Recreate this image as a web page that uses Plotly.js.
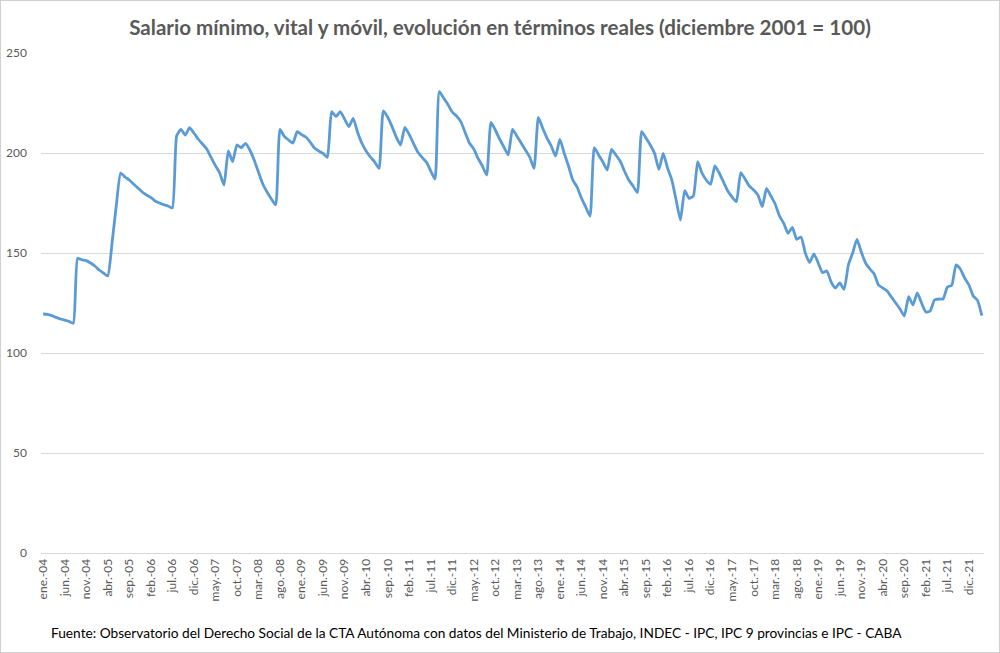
<!DOCTYPE html>
<html>
<head>
<meta charset="utf-8">
<script src="https://cdn.plot.ly/plotly-3.0.1.min.js"></script>
<style>
  html, body { margin: 0; padding: 0; background: #fff; }
  #wrap { position: relative; width: 1000px; height: 653px; }
  #chart { width: 1000px; height: 653px; }
  #frame { position: absolute; left: 0; top: 0; width: 1000px; height: 653px; box-sizing: border-box; border: 1px solid #d0d0d0; pointer-events: none; }
</style>
</head>
<body>
<div id="wrap"><div id="chart"></div><div id="frame"></div></div>
<script>
// Month abbreviations used for the category labels
const meses = ["ene.", "feb.", "mar.", "abr.", "may.", "jun.", "jul.", "ago.", "sep.", "oct.", "nov.", "dic."];
const anioInicio = 2004;

// Salario mínimo, vital y móvil en términos reales (dic 2001 = 100), by year
const v2004 = [119.5, 119.3, 118.7, 117.8, 117.0, 116.4, 115.8, 114.8, 147.3, 146.6, 146.2, 145.0];
const v2005 = [143.5, 141.5, 140.0, 138.5, 155.0, 174.0, 190.0, 188.0, 186.5, 184.5, 182.5, 180.5];
const v2006 = [179.0, 177.8, 176.0, 175.0, 174.2, 173.5, 172.5, 208.5, 211.8, 209.0, 212.7, 210.0];
const v2007 = [207.0, 204.5, 202.0, 197.8, 193.7, 190.0, 184.0, 201.0, 195.7, 204.0, 202.7, 204.8];
const v2008 = [201.5, 196.5, 190.5, 184.5, 180.5, 177.0, 174.0, 211.8, 208.3, 206.5, 205.0, 210.7];
const v2009 = [209.2, 208.0, 205.5, 202.5, 201.0, 199.8, 197.8, 220.7, 218.2, 220.7, 217.0, 213.2];
const v2010 = [217.3, 210.5, 205.0, 201.0, 198.0, 195.5, 192.3, 221.0, 218.0, 213.3, 208.0, 204.0];
const v2011 = [212.8, 209.3, 204.8, 200.5, 197.8, 195.5, 191.1, 187.0, 230.7, 227.5, 224.3, 220.5];
const v2012 = [218.5, 215.7, 210.3, 205.0, 202.0, 197.3, 193.5, 189.0, 215.3, 211.5, 207.0, 203.0];
const v2013 = [199.0, 211.8, 208.5, 205.0, 201.5, 198.0, 192.3, 217.8, 212.5, 207.5, 203.5, 198.5];
const v2014 = [206.8, 200.0, 193.5, 186.5, 183.0, 177.5, 173.0, 168.5, 202.7, 199.0, 195.5, 191.5];
const v2015 = [201.8, 199.0, 196.0, 191.0, 186.5, 183.5, 180.2, 210.7, 207.5, 204.0, 199.8, 191.8];
const v2016 = [199.8, 192.5, 186.5, 176.5, 166.5, 181.2, 177.3, 178.5, 195.7, 190.0, 186.5, 184.3];
const v2017 = [193.5, 190.0, 185.5, 181.0, 178.0, 175.7, 190.2, 187.0, 183.5, 181.5, 179.0, 173.2];
const v2018 = [182.3, 178.5, 174.5, 168.5, 164.8, 159.8, 162.8, 156.8, 158.0, 150.0, 145.2, 149.5];
const v2019 = [145.0, 140.2, 141.0, 135.5, 132.5, 135.0, 131.8, 144.0, 150.0, 156.8, 150.5, 145.0];
const v2020 = [142.0, 139.5, 134.0, 132.5, 131.0, 128.0, 125.0, 122.0, 118.5, 128.2, 124.0, 130.0];
const v2021 = [125.0, 120.5, 121.0, 126.5, 127.0, 127.0, 133.0, 133.8, 144.0, 142.0, 137.5, 134.0];
const v2022 = [128.5, 126.3, 118.7];

const salario = [].concat(v2004, v2005, v2006, v2007, v2008, v2009, v2010, v2011,
  v2012, v2013, v2014, v2015, v2016, v2017, v2018, v2019, v2020, v2021, v2022);

// Category labels "ene.-04", "feb.-04", ...
const categorias = salario.map((_, i) => {
  const anio = anioInicio + Math.floor(i / 12);
  return meses[i % 12] + "-" + String(anio).slice(2);
});
// Tick labels shown every 5 months
const etiquetas = categorias.filter((_, i) => i % 5 === 0);

const fuenteTxt = "Fuente: Observatorio del Derecho Social de la CTA Autónoma con datos del Ministerio de Trabajo, INDEC - IPC, IPC 9 provincias e IPC - CABA";
const tituloTxt = "Salario mínimo, vital y móvil, evolución en términos reales (diciembre 2001 = 100)";

const trace = {
  x: categorias,
  y: salario,
  type: "scatter",
  mode: "lines",
  line: { color: "#5b9bd5", width: 2.8, shape: "spline", smoothing: 0.5 },
  hoverinfo: "x+y"
};

const layout = {
  width: 1000,
  height: 653,
  margin: { l: 41, r: 16, t: 53, b: 100 },
  paper_bgcolor: "#ffffff",
  plot_bgcolor: "#ffffff",
  showlegend: false,
  font: { family: "Lato, 'Open Sans', sans-serif", color: "#595959" },
  title: {
    text: "<b>" + tituloTxt + "</b>",
    font: { family: "Lato, 'Open Sans', sans-serif", size: 20.6, color: "#595959" },
    x: 0.5, xanchor: "center", xref: "container",
    y: 0.958, yanchor: "middle", yref: "container"
  },
  xaxis: {
    type: "category",
    range: [-0.5, categorias.length - 0.5],
    tickmode: "array",
    tickvals: etiquetas,
    ticktext: etiquetas,
    tickangle: -90,
    tickfont: { size: 12, color: "#595959", family: "Lato, 'Open Sans', sans-serif" },
    showgrid: false,
    showline: true,
    linecolor: "#d9d9d9",
    linewidth: 1,
    ticks: "",
    zeroline: false,
    fixedrange: true
  },
  yaxis: {
    range: [0, 250],
    tickmode: "linear",
    tick0: 0,
    dtick: 50,
    tickfont: { size: 12, color: "#595959", family: "Lato, 'Open Sans', sans-serif" },
    showgrid: true,
    gridcolor: "#d9d9d9",
    gridwidth: 1,
    showline: false,
    zeroline: false,
    ticks: "",
    ticklabelstandoff: 13,
    fixedrange: true
  },
  annotations: [{
    text: fuenteTxt,
    xref: "paper", yref: "paper",
    x: -0.001, y: -0.158,
    xanchor: "left", yanchor: "middle",
    xshift: 9,
    showarrow: false,
    font: { family: "Lato, 'Open Sans', sans-serif", size: 13.7, color: "#000000" }
  }]
};

Plotly.newPlot("chart", [trace], layout, { displayModeBar: false, staticPlot: true });
</script>
</body>
</html>
